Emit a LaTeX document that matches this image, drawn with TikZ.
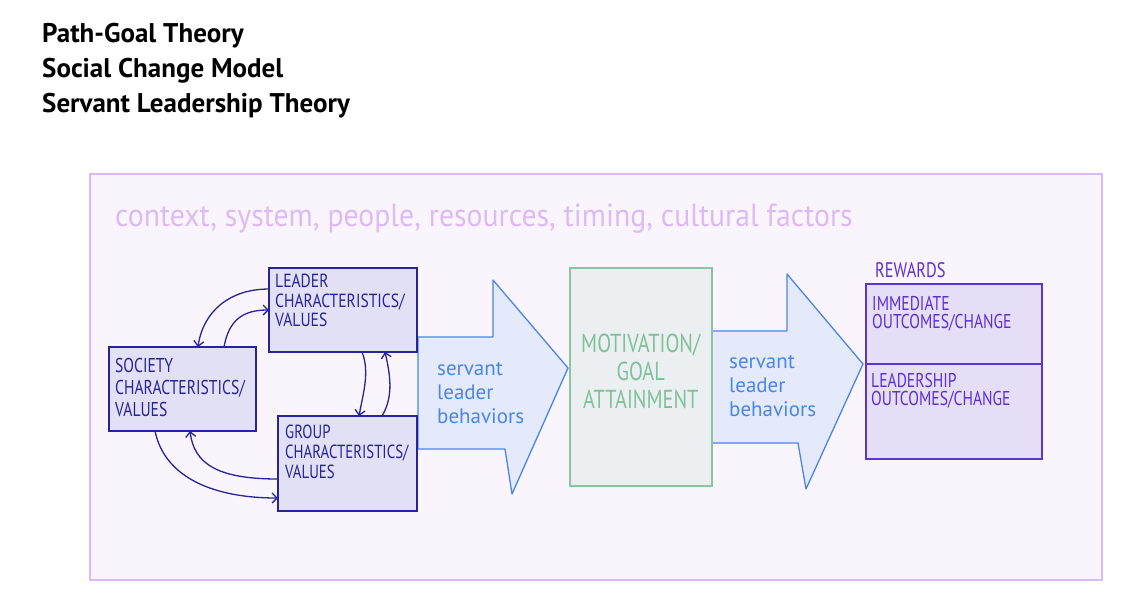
\documentclass[tikz,border=0pt]{standalone}
\usepackage{fontspec}
\setmainfont{PT Sans}
\newfontfamily\handfont[FakeStretch=0.78]{PT Sans}
\newfontfamily\leaderfont[FakeStretch=0.82]{PT Sans}
\newfontfamily\ctxfont[FakeStretch=0.93]{PT Sans}
\usetikzlibrary{arrows.meta,calc}
\definecolor{frameline}{RGB}{218,186,245}
\definecolor{framefill}{RGB}{250,245,252}
\definecolor{ctxtext}{RGB}{222,186,245}
\definecolor{navy}{RGB}{38,36,150}
\definecolor{navyfill}{RGB}{226,224,245}
\definecolor{arrowline}{RGB}{74,134,232}
\definecolor{arrowfill}{RGB}{228,234,250}
\definecolor{bluetext}{RGB}{74,134,232}
\definecolor{greenline}{RGB}{140,196,162}
\definecolor{greenfill}{RGB}{236,239,241}
\definecolor{greentext}{RGB}{125,194,152}
\definecolor{purpleline}{RGB}{92,52,210}
\definecolor{purplefill}{RGB}{230,222,246}
\definecolor{purpletext}{RGB}{92,48,210}
\begin{document}
\begin{tikzpicture}[x=1pt,y=-1pt,
  charbox/.style={draw=navy, fill=navyfill, line width=1.3pt, inner sep=0pt, outer sep=0pt, anchor=north west},
  chartext/.style={anchor=north west, inner sep=0pt, align=left, text=navy},
  cyclearrow/.style={draw=navy, line width=1.3pt, -{Straight Barb[length=5pt,width=10pt,line width=1.3pt]}},
  bigarrow/.style={draw=arrowline, fill=arrowfill, line width=1.3pt, line join=round},
  behavtext/.style={anchor=north west, inner sep=0pt, align=left, text=bluetext, font=\fontsize{21}{24}\selectfont},
  rewardbox/.style={draw=purpleline, fill=purplefill, line width=1.3pt, inner sep=0pt, outer sep=0pt, anchor=north west, minimum width=176pt},
  rewardtext/.style={anchor=north west, inner sep=0pt, align=left, text=purpletext, font=\handfont\fontsize{20}{18.5}\selectfont},
  titletext/.style={anchor=base west, inner sep=0pt, font=\bfseries\fontsize{27}{32}\selectfont}
]
\useasboundingbox (0,0) rectangle (1132,614);
\fill[white] (0,0) rectangle (1132,614);

% title
\node[titletext] (t1) at (42,42) {Path-Goal Theory};
\node[titletext] (t2) at (42,77) {Social Change Model};
\node[titletext] (t3) at (42,112) {Servant Leadership Theory};

% frame
\node[draw=frameline, fill=framefill, line width=2pt, inner sep=0pt, anchor=north west,
      minimum width=1012pt, minimum height=406pt] (frame) at (89,173) {};
\node[anchor=base west, inner sep=0pt, text=ctxtext, font=\ctxfont\fontsize{32}{36}\selectfont] (ctx) at (115,226)
  {context, system, people, resources, timing, cultural factors};

% big arrows
\draw[bigarrow] (418,337) -- (493,337) -- (493,280) -- (568,368) -- (512,494) -- (505,449) -- (418,449) -- cycle;
\draw[bigarrow] (711,331) -- (787,331) -- (787,274) -- (863,364) -- (806,489) -- (798,443) -- (711,443) -- cycle;

% characteristic boxes
\node[charbox, minimum width=148pt, minimum height=84pt] (leader) at (269,268) {};
\node[charbox, minimum width=147pt, minimum height=84pt] (society) at (109,347) {};
\node[charbox, minimum width=139pt, minimum height=95pt] (group) at (278,416) {};

\node[chartext, font=\leaderfont\fontsize{19}{19.5}\selectfont] (leadertxt) at ($(leader.north west)+(6,6)$) {LEADER\\CHARACTERISTICS/\\VALUES};
\node[chartext, font=\handfont\fontsize{20}{22}\selectfont] (societytxt) at ($(society.north west)+(6,11)$) {SOCIETY\\CHARACTERISTICS/\\VALUES};
\node[chartext, font=\handfont\fontsize{19}{20}\selectfont] (grouptxt) at ($(group.north west)+(7,9)$) {GROUP\\CHARACTERISTICS/\\VALUES};

% cycle connectors
\draw[cyclearrow] ($(leader.north west)+(0,21)$) .. controls +(-40,0) and +(5,-35) .. ($(society.north west)+(89,0)$);
\draw[cyclearrow] ($(society.north west)+(115,0)$) .. controls +(5,-28) and +(-25,0) .. ($(leader.north west)+(0,42)$);
\draw[cyclearrow] ($(leader.south west)+(93,0)$) .. controls +(8,20) and +(4,-22) .. ($(group.north west)+(81,0)$);
\draw[cyclearrow] ($(group.north west)+(104,0)$) .. controls +(12,-20) and +(5,22) .. ($(leader.south west)+(116,0)$);
\draw[cyclearrow] ($(group.north west)+(0,63)$) .. controls +(-62,0) and +(4,32) .. ($(society.south west)+(81,0)$);
\draw[cyclearrow] ($(society.south west)+(46,0)$) .. controls +(10,48) and +(-62,0) .. ($(group.north west)+(0,82)$);

% motivation box
\node[draw=greenline, fill=greenfill, line width=1.5pt, inner sep=0pt, anchor=north west,
      minimum width=142pt, minimum height=218pt] (motiv) at (569,267) {};
\node[anchor=north, inner sep=0pt, align=center, text=greentext,
      font=\handfont\fontsize{26}{28}\selectfont] (motivtxt) at ($(motiv.north)+(0,67)$)
  {MOTIVATION/\\GOAL\\ATTAINMENT};

% behaviour labels
\node[behavtext] (beh1) at (437,362) {servant\\leader\\behaviors};
\node[behavtext] (beh2) at (729,355) {servant\\leader\\behaviors};

% rewards
\node[anchor=base west, inner sep=0pt, text=purpletext, font=\handfont\fontsize{21}{18}\selectfont] (rewards) at (875,277) {REWARDS};
\node[rewardbox, minimum height=80pt] (immediate) at (866,284) {};
\node[rewardbox, minimum height=95pt] (leadership) at (immediate.south west) {};
\node[rewardtext] (immtxt) at ($(immediate.north west)+(6,12)$) {IMMEDIATE\\OUTCOMES/CHANGE};
\node[rewardtext] (leadtxt) at ($(leadership.north west)+(5,9)$) {LEADERSHIP\\OUTCOMES/CHANGE};
\end{tikzpicture}
\end{document}
